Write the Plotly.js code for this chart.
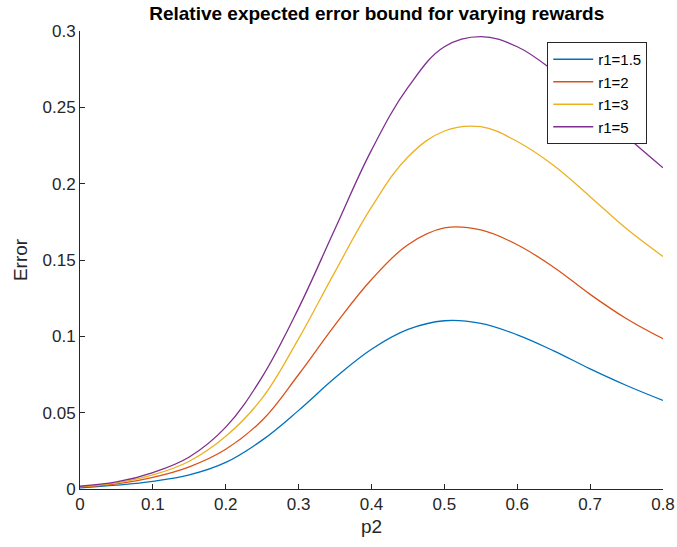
<!DOCTYPE html>
<html>
<head>
<meta charset="utf-8">
<script src="https://cdn.plot.ly/plotly-3.0.1.min.js"></script>
<style>html,body{margin:0;padding:0;background:#fff;}#chart{width:677px;height:547px;}</style>
</head>
<body>
<div id="chart"></div>
<script>
const p2 = [0, 0.05, 0.1, 0.15, 0.2, 0.25, 0.3, 0.35, 0.4, 0.45, 0.5, 0.55, 0.6, 0.65, 0.7, 0.75, 0.8];
const errR1_15 = [0.0008, 0.0025, 0.0050, 0.0092, 0.0174, 0.0320, 0.0515, 0.0728, 0.0915, 0.1045, 0.1102, 0.1085, 0.1010, 0.0905, 0.0787, 0.0678, 0.0580];
const errR1_2  = [0.0012, 0.0034, 0.0076, 0.0145, 0.0260, 0.0450, 0.0750, 0.1075, 0.1372, 0.1600, 0.1710, 0.1697, 0.1600, 0.1453, 0.1275, 0.1115, 0.0984];
const errR1_3  = [0.0015, 0.0040, 0.0092, 0.0182, 0.0345, 0.0595, 0.0985, 0.1424, 0.1846, 0.2175, 0.2345, 0.2373, 0.2276, 0.2119, 0.1915, 0.1704, 0.1523];
const errR1_5  = [0.0018, 0.0046, 0.0108, 0.0210, 0.0405, 0.0735, 0.1185, 0.1705, 0.2220, 0.2630, 0.2897, 0.2963, 0.2897, 0.2737, 0.2525, 0.2309, 0.2104];
const seriesNames = ['r1=1.5', 'r1=2', 'r1=3', 'r1=5'];
const seriesColors = ['#0072BD', '#D95319', '#EDB120', '#7E2F8E'];
const seriesValues = [errR1_15, errR1_2, errR1_3, errR1_5];

const traces = seriesValues.map((ys, i) => ({
  x: p2, y: ys, type: 'scatter', mode: 'lines', name: seriesNames[i],
  line: {color: seriesColors[i], width: 1.3, shape: 'spline', smoothing: 1.1}
}));

const FONT = 'Liberation Sans, Arial, Helvetica, sans-serif';
const axisCommon = {
  showgrid: false, zeroline: false, showline: true, linecolor: '#262626', linewidth: 1,
  ticks: 'inside', ticklen: 5, tickcolor: '#262626', tickwidth: 1,
  tickfont: {family: FONT, size: 17, color: '#262626'},
  mirror: false
};

const layout = {
  width: 677, height: 547,
  margin: {l: 80, r: 14, t: 31, b: 58},
  paper_bgcolor: '#fff', plot_bgcolor: '#fff',
  title: {text: '<b>Relative expected error bound for varying rewards</b>',
    font: {family: FONT, size: 19, color: '#000'},
    x: 0.5565, xanchor: 'center', y: 0.975, yanchor: 'middle'},
  xaxis: Object.assign({}, axisCommon, {range: [0, 0.8], dtick: 0.1, tick0: 0,
    title: {text: 'p2', font: {family: FONT, size: 19, color: '#262626'}, standoff: 6}}),
  yaxis: Object.assign({}, axisCommon, {range: [0, 0.3], dtick: 0.05, tick0: 0,
    title: {text: 'Error', font: {family: FONT, size: 19, color: '#262626'}, standoff: 9}}),
  showlegend: true,
  legend: {x: 0.973, xanchor: 'right', y: 0.976, yanchor: 'top',
    bgcolor: '#fff', bordercolor: '#262626', borderwidth: 1,
    font: {family: FONT, size: 15, color: '#000'},
    itemwidth: 40, tracegroupgap: 0}
};

Plotly.newPlot('chart', traces, layout, {displayModeBar: false, staticPlot: true});
</script>
</body>
</html>
